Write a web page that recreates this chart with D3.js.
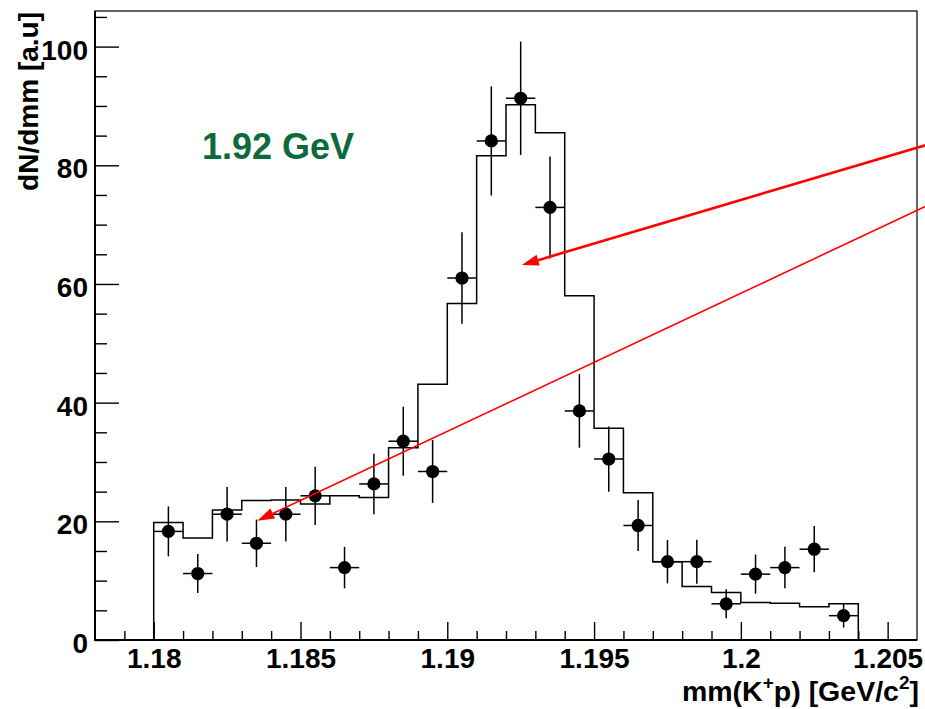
<!DOCTYPE html>
<html>
<head>
<meta charset="utf-8">
<script src="https://cdn.jsdelivr.net/npm/d3@7"></script>
<style>
  html, body { margin: 0; padding: 0; background: #fff; }
  svg { display: block; }
  text { font-family: "Liberation Sans", Arial, Helvetica, sans-serif; font-weight: bold; }
</style>
</head>
<body>
<svg id="chart" width="925" height="709"></svg>
<script>
// Missing-mass bins (centres, GeV/c^2), bin width 1 MeV
const massBins = [1.1805, 1.1815, 1.1825, 1.1835, 1.1845, 1.1855, 1.1865, 1.1875,
                  1.1885, 1.1895, 1.1905, 1.1915, 1.1925, 1.1935, 1.1945, 1.1955,
                  1.1965, 1.1975, 1.1985, 1.1995, 1.2005, 1.2015, 1.2025, 1.2035];
const binWidth = 0.001;

// Measured yield with statistical errors
const dataCounts = [18.3, 11.2, 21.2, 16.3, 21.2, 24.3, 12.2, 26.3,
                    33.5, 28.4, 61.0, 84.1, 91.3, 72.9, 38.6, 30.5,
                    19.3, 13.2, 13.2, 6.1, 11.1, 12.2, 15.3, 4.1];
const dataErrors = [4.2, 3.3, 4.6, 4.0, 4.6, 4.9, 3.5, 5.1,
                    5.8, 5.3, 7.7, 9.2, 9.55, 8.6, 6.2, 5.5,
                    4.3, 3.65, 3.7, 2.45, 3.3, 3.5, 3.9, 2.0];

// Simulated spectrum (histogram)
const simCounts = [19.8, 17.2, 21.9, 23.5, 23.6, 22.9, 24.3, 24.0,
                   32.4, 43.1, 56.7, 81.6, 90.2, 85.5, 58.0, 35.7,
                   24.8, 13.2, 9.0, 8.0, 6.3, 6.2, 5.6, 6.1];

// Axis ticks
const xMajorTicks = [1.18, 1.185, 1.19, 1.195, 1.2, 1.205];
const xTickLabels = ["1.18", "1.185", "1.19", "1.195", "1.2", "1.205"];
const xMinorTicks = [1.179, 1.181, 1.182, 1.183, 1.184, 1.186, 1.187, 1.188, 1.189,
                     1.191, 1.192, 1.193, 1.194, 1.196, 1.197, 1.198, 1.199,
                     1.201, 1.202, 1.203, 1.204];
const yMajorTicks = [0, 20, 40, 60, 80, 100];
const yMinorTicks = [5, 10, 15, 25, 30, 35, 45, 50, 55, 65, 70, 75, 85, 90, 95, 105];

// Annotation arrows, [from, to] in data coordinates
const arrows = [
  { from: [1.2063, 83.4], to: [1.19254, 63.2], width: 2.6 },
  { from: [1.2063, 73.1], to: [1.18353, 20.1], width: 1.6 }
];

const energyLabel = "1.92 GeV";

const frame = { left: 95, top: 11, right: 917, bottom: 640 };

const svg = d3.select("#chart");

const x = d3.scaleLinear().domain([1.178, 1.206]).range([frame.left, frame.right]);
const y = d3.scaleLinear().domain([0, 106]).range([frame.bottom, frame.top]);

// Frame
svg.append("rect")
  .attr("x", frame.left).attr("y", frame.top)
  .attr("width", frame.right - frame.left).attr("height", frame.bottom - frame.top)
  .attr("fill", "none").attr("stroke", "#000").attr("stroke-width", 1.2);

// Axes
const yMinor = svg.append("g").attr("transform", `translate(${frame.left},0)`)
  .call(d3.axisLeft(y).tickValues(yMinorTicks).tickSize(-12).tickFormat(""));
const yMajor = svg.append("g").attr("transform", `translate(${frame.left},0)`)
  .call(d3.axisLeft(y).tickValues(yMajorTicks).tickSize(-24).tickPadding(7).tickFormat(d3.format("d")));
const xMinor = svg.append("g").attr("transform", `translate(0,${frame.bottom})`)
  .call(d3.axisBottom(x).tickValues(xMinorTicks).tickSize(-9).tickFormat(""));
const xMajor = svg.append("g").attr("transform", `translate(0,${frame.bottom})`)
  .call(d3.axisBottom(x).tickValues(xMajorTicks).tickSize(-18).tickPadding(8)
        .tickFormat((d, i) => xTickLabels[i]));

[yMinor, yMajor, xMinor, xMajor].forEach(g => {
  g.select(".domain").remove();
  g.selectAll(".tick line").attr("stroke", "#000").attr("stroke-width", 1.4);
  g.selectAll(".tick text").attr("fill", "#000").style("font-size", "28px");
});
yMajor.selectAll(".tick text").attr("dy", "0.45em");

svg.append("line")
  .attr("x1", frame.left).attr("x2", frame.left)
  .attr("y1", frame.top).attr("y2", frame.bottom + 1)
  .attr("stroke", "#000").attr("stroke-width", 2);
svg.append("line")
  .attr("x1", frame.left - 1).attr("x2", frame.right)
  .attr("y1", frame.bottom).attr("y2", frame.bottom)
  .attr("stroke", "#000").attr("stroke-width", 2);

// Axis titles
const xTitle = svg.append("text")
  .attr("x", 919).attr("y", 701)
  .attr("text-anchor", "end")
  .style("font-size", "28.5px");
xTitle.append("tspan").text("mm(K");
xTitle.append("tspan").text("+").attr("dy", -12).style("font-size", "19px");
xTitle.append("tspan").text("p) [GeV/c").attr("dy", 12);
xTitle.append("tspan").text("2").attr("dy", -12).style("font-size", "19px");
xTitle.append("tspan").text("]").attr("dy", 12);

svg.append("text")
  .attr("transform", `translate(38,${frame.top + 1}) rotate(-90)`)
  .attr("text-anchor", "end")
  .style("font-size", "28px")
  .text("dN/dmm [a.u]");

// Simulated histogram as a step outline
const histPts = [[massBins[0] - binWidth / 2, 0]];
massBins.forEach((m, i) => {
  histPts.push([m - binWidth / 2, simCounts[i]]);
  histPts.push([m + binWidth / 2, simCounts[i]]);
});
histPts.push([massBins[massBins.length - 1] + binWidth / 2, 0]);

svg.append("path")
  .attr("d", d3.line().x(d => x(d[0])).y(d => y(d[1]))(histPts))
  .attr("fill", "none").attr("stroke", "#000").attr("stroke-width", 1.5);

// Data points with error bars
const pts = svg.append("g").selectAll("g").data(massBins).join("g");
pts.append("line")
  .attr("x1", d => x(d)).attr("x2", d => x(d))
  .attr("y1", (d, i) => y(dataCounts[i] + dataErrors[i]))
  .attr("y2", (d, i) => y(dataCounts[i] - dataErrors[i]))
  .attr("stroke", "#000").attr("stroke-width", 1.5);
pts.append("line")
  .attr("x1", d => x(d - binWidth / 2)).attr("x2", d => x(d + binWidth / 2))
  .attr("y1", (d, i) => y(dataCounts[i])).attr("y2", (d, i) => y(dataCounts[i]))
  .attr("stroke", "#000").attr("stroke-width", 1.5);
pts.append("circle")
  .attr("cx", d => x(d)).attr("cy", (d, i) => y(dataCounts[i]))
  .attr("r", 6.6).attr("fill", "#000");

// Energy label
svg.append("text")
  .attr("x", 202).attr("y", 159)
  .attr("fill", "#0d6a3a")
  .style("font-size", "36px")
  .text(energyLabel);

// Red arrows
arrows.forEach(a => {
  const x0 = x(a.from[0]), y0 = y(a.from[1]);
  const x1 = x(a.to[0]), y1 = y(a.to[1]);
  const ang = Math.atan2(y1 - y0, x1 - x0);
  const headLen = 17, headHalf = 5.5;
  const bx = x1 - headLen * Math.cos(ang), by = y1 - headLen * Math.sin(ang);
  svg.append("line")
    .attr("x1", x0).attr("y1", y0).attr("x2", bx).attr("y2", by)
    .attr("stroke", "#ff0000").attr("stroke-width", a.width);
  const px = -Math.sin(ang) * headHalf, py = Math.cos(ang) * headHalf;
  svg.append("polygon")
    .attr("points", [[x1, y1], [bx + px, by + py], [bx - px, by - py]].map(p => p.join(",")).join(" "))
    .attr("fill", "#ff0000");
});
</script>
</body>
</html>
